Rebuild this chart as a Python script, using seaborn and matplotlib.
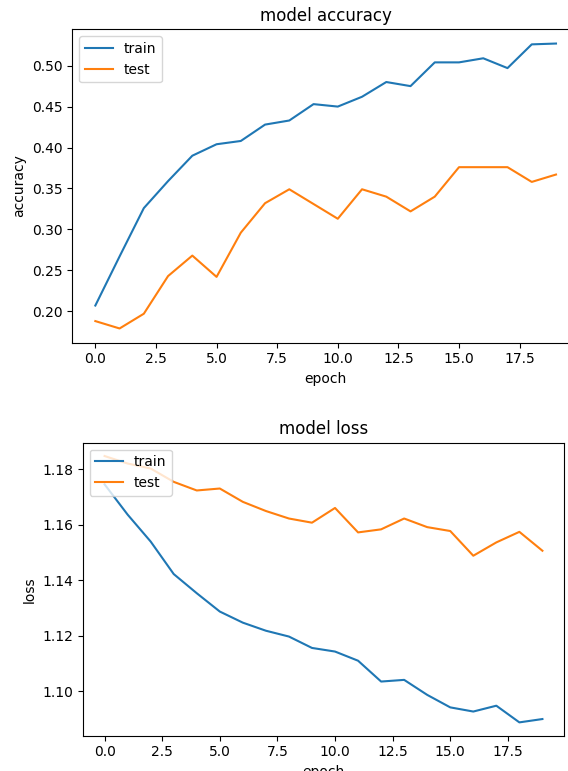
import numpy as np
import pandas as pd
import matplotlib
matplotlib.use("Agg")
import matplotlib.pyplot as plt
import seaborn as sns

# training history
epochs = np.arange(20)

train_acc = [0.207, 0.267, 0.326, 0.359, 0.390, 0.404, 0.408, 0.428, 0.433, 0.453,
             0.450, 0.462, 0.480, 0.475, 0.504, 0.504, 0.509, 0.497, 0.526, 0.527]
test_acc = [0.188, 0.179, 0.197, 0.243, 0.268, 0.242, 0.296, 0.332, 0.349, 0.331,
            0.313, 0.349, 0.340, 0.322, 0.340, 0.376, 0.376, 0.376, 0.358, 0.367]

train_loss = [1.1745, 1.1636, 1.1539, 1.1422, 1.1353, 1.1287, 1.1247, 1.1218, 1.1197, 1.1156,
              1.1143, 1.1110, 1.1035, 1.1041, 1.0987, 1.0942, 1.0927, 1.0948, 1.0888, 1.0900]
test_loss = [1.1847, 1.1820, 1.1802, 1.1754, 1.1723, 1.1730, 1.1682, 1.1649, 1.1622, 1.1607,
             1.1660, 1.1572, 1.1583, 1.1622, 1.1591, 1.1577, 1.1488, 1.1536, 1.1574, 1.1506]

blue = "#1f77b4"
orange = "#ff7f0e"

fig = plt.figure(figsize=(5.68, 7.71), dpi=100)

# two stacked panels, the top one runs past the right edge as in the screenshot
ax_acc = fig.add_axes([0.1273, 0.5555, 0.8921, 0.4065])
ax_loss = fig.add_axes([0.1456, 0.0458, 0.8479, 0.3800])

sns.lineplot(x=epochs, y=train_acc, color=blue, label="train", ax=ax_acc)
sns.lineplot(x=epochs, y=test_acc, color=orange, label="test", ax=ax_acc)
ax_acc.set_title("model accuracy", fontsize=12)
ax_acc.set_ylabel("accuracy")
ax_acc.set_xlabel("epoch")
ax_acc.set_xticks(np.arange(0, 20, 2.5))
ax_acc.legend(loc="upper left")

sns.lineplot(x=epochs, y=train_loss, color=blue, label="train", ax=ax_loss)
sns.lineplot(x=epochs, y=test_loss, color=orange, label="test", ax=ax_loss)
ax_loss.set_title("model loss", fontsize=12)
ax_loss.set_ylabel("loss")
ax_loss.set_xlabel("epoch")
ax_loss.set_xticks(np.arange(0, 20, 2.5))
ax_loss.legend(loc="upper left")

fig.savefig("out.png", dpi=100)
